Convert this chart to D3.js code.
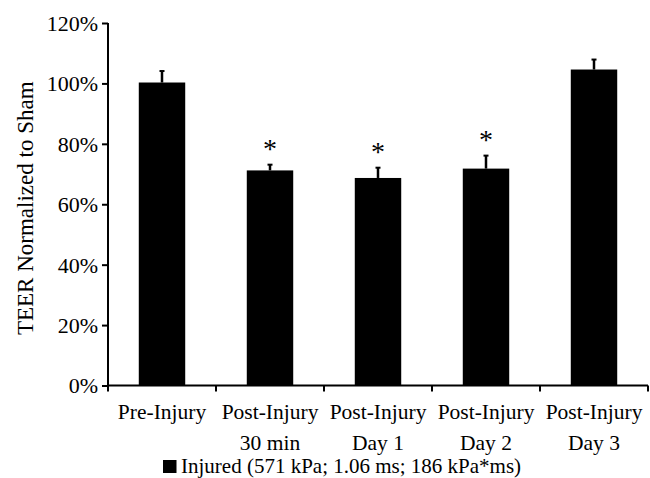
<!DOCTYPE html>
<html>
<head>
<meta charset="utf-8">
<script src="https://cdn.jsdelivr.net/npm/d3@7"></script>
<style>
  html, body { margin: 0; padding: 0; background: #fff; }
</style>
</head>
<body>
<svg id="chart" width="650" height="478" font-family="Liberation Serif"></svg>
<script>
// Time points (two-line labels)
const categories = ["Pre-Injury", "Post-Injury 30 min", "Post-Injury Day 1", "Post-Injury Day 2", "Post-Injury Day 3"];
const labelLines = [["Pre-Injury"], ["Post-Injury", "30 min"], ["Post-Injury", "Day 1"], ["Post-Injury", "Day 2"], ["Post-Injury", "Day 3"]];
// TEER normalized to sham (fraction) and upper error
const means = [1.003, 0.712, 0.687, 0.718, 1.046];
const errors = [0.038, 0.019, 0.034, 0.043, 0.033];
const significant = [false, true, true, true, false];
const yTicks = [0, 0.2, 0.4, 0.6, 0.8, 1.0, 1.2];
const seriesName = "Injured (571 kPa; 1.06 ms; 186 kPa*ms)";
const yTitle = "TEER Normalized to Sham";

const FONT = "Liberation Serif";
const svg = d3.select("#chart");
const plotLeft = 108, plotRight = 648, plotTop = 23, plotBottom = 385.5;

const x = d3.scaleBand().domain(categories).range([plotLeft, plotRight]).paddingInner(0.57).paddingOuter(0.285);
const y = d3.scaleLinear().domain([0, 1.2]).range([plotBottom, plotTop]);
const step = x.step();

// Bars
svg.append("g").selectAll("rect").data(categories).join("rect")
  .attr("x", d => x(d))
  .attr("y", (d, i) => y(means[i]))
  .attr("width", x.bandwidth())
  .attr("height", (d, i) => y(0) - y(means[i]))
  .attr("fill", "#000");

// Upper error bars and significance marks
const eb = svg.append("g").attr("stroke", "#000");
categories.forEach((c, i) => {
  const cx = x(c) + x.bandwidth() / 2;
  const yTop = y(means[i] + errors[i]);
  eb.append("line").attr("x1", cx).attr("x2", cx)
    .attr("y1", y(means[i])).attr("y2", yTop).attr("stroke-width", 2.5);
  eb.append("line").attr("x1", cx - 2.5).attr("x2", cx + 2.5)
    .attr("y1", yTop).attr("y2", yTop).attr("stroke-width", 2);
  if (significant[i]) {
    svg.append("text").attr("x", cx).attr("y", yTop - 7)
      .attr("text-anchor", "middle").attr("font-family", FONT).attr("font-size", 28).text("*");
  }
});

// Y axis
const yAxis = svg.append("g").attr("transform", `translate(${plotLeft},0)`)
  .call(d3.axisLeft(y).tickValues(yTicks).tickFormat(d3.format(".0%")).tickSize(6).tickPadding(4));
yAxis.attr("font-family", FONT).attr("font-size", 22);
yAxis.select(".domain").attr("stroke-width", 2).attr("d", `M0,${plotBottom}V${plotTop}`);
yAxis.selectAll(".tick line").attr("stroke-width", 2);
yAxis.selectAll(".tick text").attr("fill", "#000").attr("dy", "0.34em");

// X axis with ticks at band boundaries
const xAxis = svg.append("g").attr("transform", `translate(0,${plotBottom})`);
xAxis.append("line").attr("x1", plotLeft - 1).attr("x2", plotRight).attr("y1", 0).attr("y2", 0)
  .attr("stroke", "#000").attr("stroke-width", 2);
d3.range(categories.length + 1).forEach(i => {
  const tx = plotLeft + i * step;
  xAxis.append("line").attr("x1", tx).attr("x2", tx).attr("y1", 0).attr("y2", 6)
    .attr("stroke", "#000").attr("stroke-width", 2);
});
categories.forEach((c, i) => {
  const t = xAxis.append("text").attr("text-anchor", "middle")
    .attr("font-family", FONT).attr("font-size", 21.5)
    .attr("transform", `translate(${x(c) + x.bandwidth() / 2},0)`);
  labelLines[i].forEach((ln, k) => {
    t.append("tspan").attr("x", 0).attr("y", 33 + k * 31).text(ln);
  });
});

// Y title
svg.append("text").attr("transform", `translate(33,${(plotTop + plotBottom) / 2 + 4}) rotate(-90)`)
  .attr("text-anchor", "middle").attr("font-family", FONT).attr("font-size", 23).text(yTitle);

// Legend
svg.append("rect").attr("x", 163).attr("y", 460).attr("width", 13.5).attr("height", 13).attr("fill", "#000");
svg.append("text").attr("x", 181).attr("y", 473).attr("font-family", FONT).attr("font-size", 21).text(seriesName);
</script>
</body>
</html>
